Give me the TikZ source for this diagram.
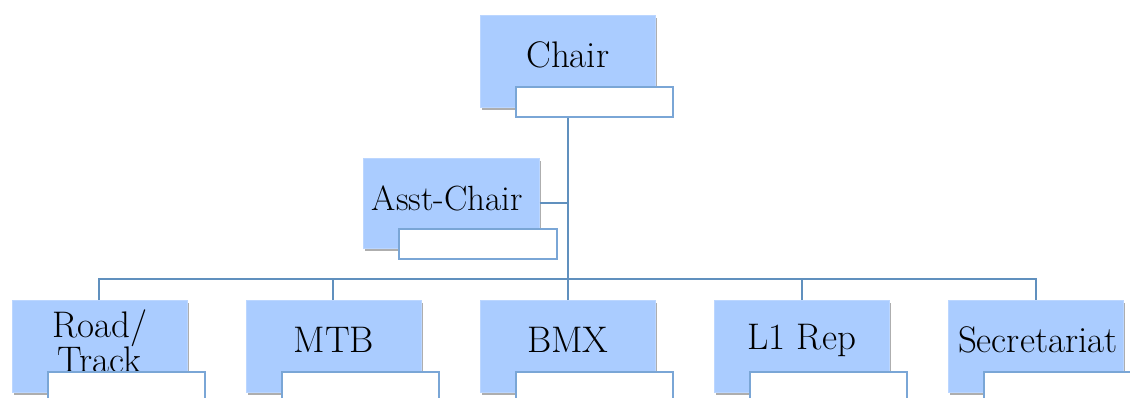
\documentclass[tikz,border=0pt]{standalone}
\usetikzlibrary{shadows}
\definecolor{boxblue}{RGB}{170,204,255}
\definecolor{linkblue}{RGB}{96,144,190}
\definecolor{wborder}{RGB}{122,166,214}
\begin{document}
\begin{tikzpicture}[x=1pt,y=-1pt,
  role/.style={anchor=north west, fill=boxblue, draw=boxblue!80!white, line width=0.6pt,
    minimum width=175pt, minimum height=92pt, inner sep=0pt,
    drop shadow={shadow xshift=2pt, shadow yshift=-3pt, opacity=0.45, fill=black!70}},
  rtext/.style={inner sep=0pt, align=center, font=\fontsize{37}{35}\selectfont},
  namebox/.style={anchor=north west, fill=white, draw=wborder, line width=1.6pt,
    minimum width=157pt, minimum height=30pt, inner sep=0pt},
  link/.style={draw=linkblue, line width=1.8pt}]
\clip (0,0) rectangle (1130,397);
\fill[white] (0,0) rectangle (1130,397);
% Chair
\node[role] (chair) at (480,15) {};
\node[rtext] (chairT) at ([yshift=6pt]chair.center) {Chair};
\node[namebox] (chairN) at (515,86) {};
% Asst-Chair
\node[role, minimum width=176pt, minimum height=90pt] (asst) at (363,158) {};
\node[rtext, font=\fontsize{35}{35}\selectfont] (asstT) at ([xshift=-4pt,yshift=5pt]asst.center) {Asst-Chair};
\node[namebox, minimum width=158pt] (asstN) at (398,228) {};
% bottom row
\node[role] (road) at (12,300) {};
\node[rtext] (roadT) at ([yshift=5pt]road.center) {Road/\\Track};
\node[namebox] (roadN) at (47,371) {};
\node[role] (mtb) at (246,300) {};
\node[rtext] (mtbT) at ([yshift=6pt]mtb.center) {MTB};
\node[namebox] (mtbN) at (281,371) {};
\node[role] (bmx) at (480,300) {};
\node[rtext] (bmxT) at ([yshift=6pt]bmx.center) {BMX};
\node[namebox] (bmxN) at (515,371) {};
\node[role] (l1) at (714,300) {};
\node[rtext] (l1T) at ([yshift=6pt]l1.center) {L1 Rep};
\node[namebox] (l1N) at (749,371) {};
\node[role] (sec) at (948,300) {};
\node[rtext] (secT) at ([xshift=2pt,yshift=6pt]sec.center) {Secretariat};
\node[namebox] (secN) at (983,371) {};
% connectors
\coordinate (trunk) at (568,279);
\coordinate (asstJ) at (568,203);
\coordinate (busL) at (99,279);
\coordinate (busR) at (1036,279);
\draw[link] (chairN.south -| trunk) -- (trunk);
\draw[link] (asst.east |- asstJ) -- (asstJ);
\draw[link] (road.north -| busL) -- (busL) -- (busR) -- (sec.north -| busR);
\draw[link] (mtb.north -| 333,0) -- (333,279);
\draw[link] (bmx.north -| trunk) -- (trunk);
\draw[link] (l1.north -| 802,0) -- (802,279);
\end{tikzpicture}
\end{document}
